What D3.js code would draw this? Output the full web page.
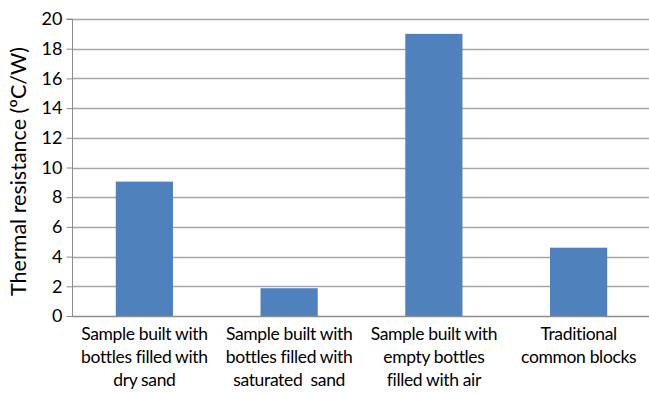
<!DOCTYPE html>
<html>
<head>
<meta charset="utf-8">
<script src="https://cdn.jsdelivr.net/npm/d3@7"></script>
<style>
  html, body { margin: 0; padding: 0; background: #fff; }
  svg { display: block; }
  text { font-family: Lato, "Open Sans", sans-serif; fill: #000; white-space: pre; }
</style>
</head>
<body>
<svg id="chart" width="649" height="393"></svg>
<script>
// Thermal resistance of each wall sample
const categories = [
  ["Sample built with", "bottles filled with", "dry sand"],
  ["Sample built with", "bottles filled with", "saturated  sand"],
  ["Sample built with", "empty bottles", "filled with air"],
  ["Traditional", "common blocks"]
];
const values = [9.05, 1.87, 19.0, 4.6];
const yTicks = [0, 2, 4, 6, 8, 10, 12, 14, 16, 18, 20];
const yTitle = "Thermal resistance (ºC/W)";

const svg = d3.select("#chart");
const margin = { left: 72, top: 19, right: -2, bottom: 77 };
const W = 649, H = 393;

const x = d3.scaleBand()
  .domain(d3.range(categories.length))
  .range([margin.left, W - margin.right])
  .paddingInner(0.605)
  .paddingOuter(0.3025);

const y = d3.scaleLinear()
  .domain([0, 20])
  .range([H - margin.bottom, margin.top]);

// horizontal gridlines
svg.append("g")
  .selectAll("line")
  .data(yTicks.filter(d => d > 0))
  .join("line")
  .attr("x1", margin.left)
  .attr("x2", W - margin.right)
  .attr("y1", d => Math.round(y(d)) + 0.5)
  .attr("y2", d => Math.round(y(d)) + 0.5)
  .attr("stroke", "#a6a6a6")
  .attr("stroke-width", 1.3);

// bars
svg.append("g")
  .selectAll("rect")
  .data(values)
  .join("rect")
  .attr("x", (d, i) => x(i))
  .attr("width", x.bandwidth())
  .attr("y", d => y(d))
  .attr("height", d => y(0) - y(d))
  .attr("fill", "#4f81bd");

// y axis
const yAxis = d3.axisLeft(y)
  .tickValues(yTicks)
  .tickSize(6)
  .tickPadding(4);
const gy = svg.append("g")
  .attr("transform", `translate(${margin.left + 0.5},0)`)
  .call(yAxis);
gy.select(".domain").attr("stroke", "#8c8c8c").attr("d", `M-6,${y(20)}H0V${y(0)}`);
gy.selectAll(".tick line").attr("stroke", "#8c8c8c");
gy.selectAll(".tick text")
  .attr("font-size", 18)
  .attr("font-family", "Lato, 'Open Sans', sans-serif")
  .attr("fill", "#000");

// x axis baseline
svg.append("line")
  .attr("x1", margin.left)
  .attr("x2", W - margin.right)
  .attr("y1", Math.round(y(0)) + 0.5)
  .attr("y2", Math.round(y(0)) + 0.5)
  .attr("stroke", "#8c8c8c")
  .attr("stroke-width", 1.3);

// category labels
const lab = svg.append("g")
  .selectAll("text")
  .data(categories)
  .join("text")
  .attr("text-anchor", "middle")
  .attr("font-size", 17.5)
  .attr("letter-spacing", -0.35)
  .attr("transform", (d, i) => `translate(${x(i) + x.bandwidth() / 2},${y(0) + 23.5})`);
lab.selectAll("tspan")
  .data(d => d)
  .join("tspan")
  .attr("x", 0)
  .attr("dy", (d, i) => i === 0 ? 0 : 23.3)
  .text(d => d);

// y axis title
svg.append("text")
  .attr("transform", `translate(26,${(y(0) + y(20)) / 2 + 4}) rotate(-90)`)
  .attr("text-anchor", "middle")
  .attr("font-size", 21.5)
  .text(yTitle);
</script>
</body>
</html>
